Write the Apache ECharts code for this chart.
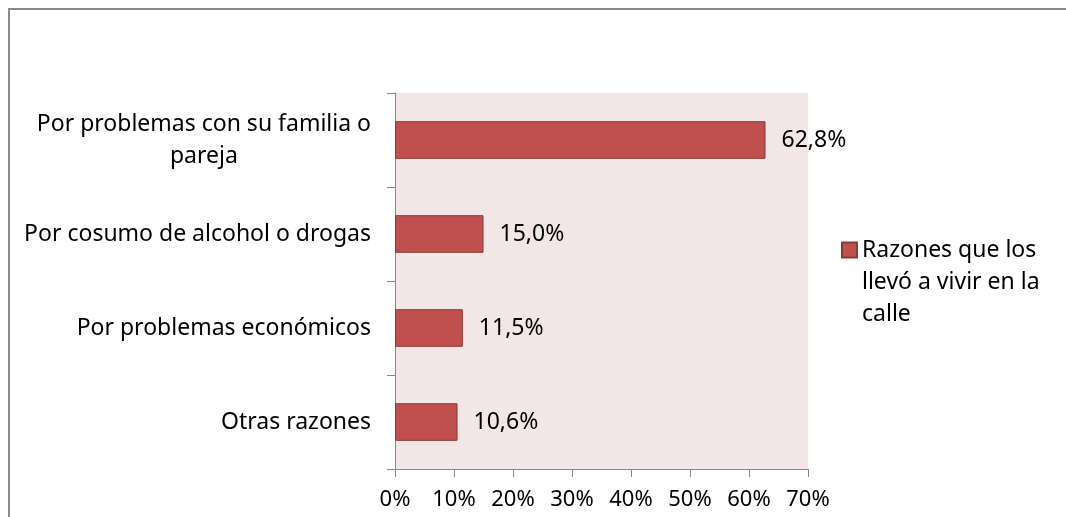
<!DOCTYPE html>
<html>
<head>
<meta charset="utf-8">
<script src="https://cdn.jsdelivr.net/npm/echarts@6/dist/echarts.min.js"></script>
<style>
  html, body { margin: 0; padding: 0; background: #fff; }
  #chart { width: 1066px; height: 517px; }
</style>
</head>
<body>
<div id="chart"></div>
<script>
// razones, de arriba hacia abajo
var categorias = ['Por problemas con su familia o\npareja', 'Por cosumo de alcohol o drogas', 'Por problemas económicos', 'Otras razones'];
var porcentajes = [62.8, 15.0, 11.5, 10.6];
var serieNombre = 'Razones que los llevó a vivir en la calle';
var xTicks = [0, 10, 20, 30, 40, 50, 60, 70];

var fuente = '"Noto Sans", sans-serif';
var chart = echarts.init(document.getElementById('chart'));

var option = {
    animation: false,
    textStyle: { fontFamily: fuente },
    graphic: [{
        type: 'rect',
        shape: { x: 9, y: 9, width: 1100, height: 600 },
        style: { fill: 'none', stroke: '#8a8a8a', lineWidth: 2 }
    }],
    grid: {
        left: 395, top: 93, width: 413, height: 376,
        show: true, backgroundColor: '#F2E6E6', borderWidth: 0
    },
    legend: {
        left: 836, top: 165,
        orient: 'vertical',
        icon: 'rect',
        itemWidth: 15, itemHeight: 15,
        data: [serieNombre],
        // dos lineas vacias arriba para que el cuadro quede a la altura de la primera linea
        formatter: function () { return '\n\nRazones que los\nllevó a vivir en la\ncalle'; },
        textStyle: { fontFamily: fuente, fontSize: 23, color: '#000', lineHeight: 32 }
    },
    xAxis: {
        type: 'value',
        min: xTicks[0], max: xTicks[xTicks.length - 1], interval: 10,
        axisLine: { show: true, lineStyle: { color: '#888' } },
        axisTick: { show: true, length: 8, lineStyle: { color: '#888' } },
        splitLine: { show: false },
        axisLabel: { formatter: '{value}%', fontSize: 22, color: '#000', margin: 20, fontFamily: fuente }
    },
    yAxis: {
        type: 'category',
        inverse: true,
        data: categorias,
        axisLine: { show: true, lineStyle: { color: '#888' } },
        axisTick: { show: true, length: 8, lineStyle: { color: '#888' } },
        axisLabel: {
            margin: 24, color: '#000',
            formatter: function (v) {
                return v.split('\n').map(function (s) { return '{c|' + s + '}'; }).join('\n');
            },
            rich: { c: { align: 'center', fontSize: 23, lineHeight: 32, color: '#000', fontFamily: fuente } }
        }
    },
    series: [{
        name: serieNombre,
        type: 'bar',
        data: porcentajes,
        barCategoryGap: '60%',
        itemStyle: { color: '#C0504D', borderColor: '#8C3A38', borderWidth: 1 },
        label: {
            show: true, position: 'right', distance: 16,
            fontSize: 23, color: '#000', fontFamily: fuente,
            formatter: function (p) { return p.value.toFixed(1).replace('.', ',') + '%'; }
        }
    }]
};
chart.setOption(option);
</script>
</body>
</html>
